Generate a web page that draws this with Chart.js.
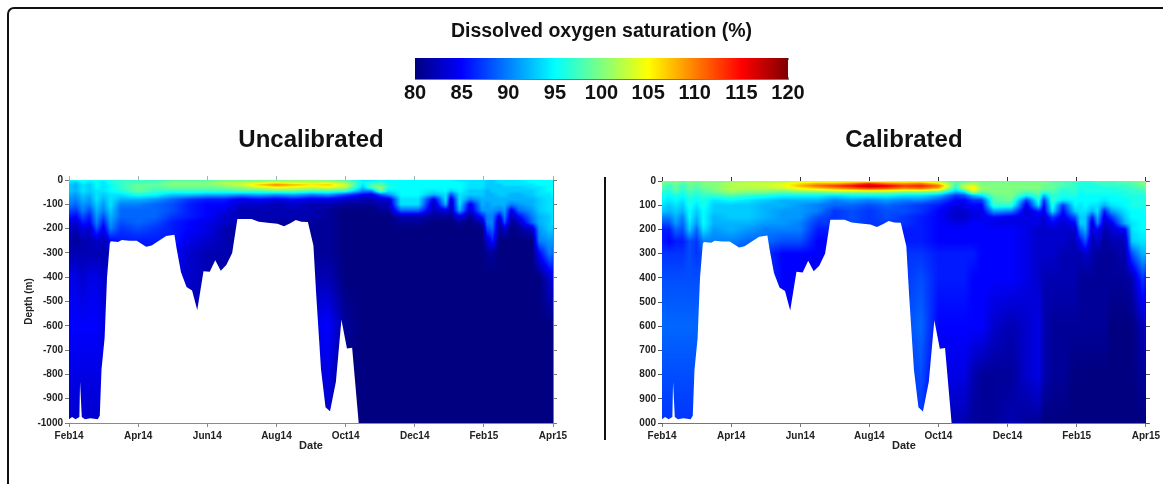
<!DOCTYPE html>
<html>
<head>
<meta charset="utf-8">
<script src="https://cdn.jsdelivr.net/npm/chart.js@4"></script>
<style>
html,body{margin:0;padding:0;background:#fff;width:1163px;height:484px;overflow:hidden}
canvas{position:absolute;display:block;filter:blur(.35px)}
#frame{position:absolute;left:7px;top:7px;width:1300px;height:600px;border:2px solid #111;border-top-left-radius:7px;box-sizing:border-box}
#divider{position:absolute;left:604px;top:177px;width:2px;height:263px;background:#111}
</style>
</head>
<body>
<div id="frame"></div>
<div id="divider"></div>
<canvas id="scale" width="460" height="110" style="left:380px;top:0"></canvas>
<canvas id="uncal" width="600" height="330" style="left:0;top:123px"></canvas>
<canvas id="cal" width="570" height="330" style="left:593px;top:123px"></canvas>
<script>
const FONT='"Liberation Sans", Arial, sans-serif';
const dateLabels=['Feb14','Apr14','Jun14','Aug14','Oct14','Dec14','Feb15','Apr15'];
const uncalDepthLabels=['-1000','-900','-800','-700','-600','-500','-400','-300','-200','-100','0'];
const calDepthLabels=['000','900','800','700','600','500','400','300','200','100','0'];
const colorbarTicks=[80,85,90,95,100,105,110,115,120];

// months since Feb14 of each sampled column
const months=[0,.2,.4,.6,.8,1,1.2,1.5,2,2.5,3,3.5,4,4.5,5,5.5,6,6.5,7,7.5,8,8.5,8.75,9,9.25,9.6,10.1,10.55,10.9,11.05,11.3,11.6,11.95,12.1,12.25,12.45,12.6,12.8,13,13.4,13.6,13.9,14];
const depths=[0,10,20,30,45,60,80,100,125,150,175,200,250,300,400,600,800,1000];

// lower limit of the sampled water column
const floorMonths=[0,.09,.19,.3,.32,.37,.46,.62,.83,.89,.94,1.03,1.1,1.18,1.21,1.42,1.53,1.74,1.96,2.23,2.39,2.6,2.81,3.05,3.11,3.24,3.4,3.56,3.71,3.89,4.07,4.23,4.39,4.55,4.72,4.87,5.28,5.49,5.81,6.03,6.22,6.4,6.56,6.72,6.91,7.07,7.15,7.29,7.42,7.55,7.72,7.88,8.04,8.19,8.38,14];
const floorDepths=[985,975,985,975,830,975,985,980,985,970,780,650,400,260,252,255,247,250,250,275,270,250,230,225,280,380,440,455,535,375,378,330,373,350,300,160,160,172,177,180,190,178,165,172,173,270,470,780,935,952,830,575,693,690,1000,1000];

// Uncalibrated saturation (%) at each depth
const uncal0=[95,95,96,95,96,95,96, 97,97,97,98,98,98,99,99,99,99,100,100,99,98,94, 94,95,95,95,95,95,95,95,94,94,94,93,93,94,94,94,94,95,95,95,95];
const uncal10=[94,93,95,94,95,94,96, 97,98,98,100,100,100,102,102,103,104,103,103,103,101,95, 96,97,95,95,95,95,95,95,95,94,94,93,93,94,94,94,94,95,95,95,95];
const uncal20=[93,92,94,93,95,94,95, 97,99,99,100,100,100,101,103,107,110,108,106,107,103,94, 98,99,96,95,95,95,95,95,95,94,94,93,93,93,94,94,94,94,95,95,95];
const uncal30=[93,92,94,93,95,94,95, 97,99,98,99,99,99,100,101,103,105,104,103,104,102,93, 98,101,96,95,95,95,95,95,95,94,94,93,93,93,93,93,93,94,94,95,95];
const uncal45=[93,92,94,93,94,94,95, 96,99,97,97,97,97,97,98,98,99,99,98,98,97,90, 90,99,94,95,95,94,95,93,95,93,93,92,93,93,93,93,93,93,94,95,95];
const uncal60=[92,91,93,92,94,93,94, 94,96,95,93,93,92,92,91,92,91,92,90,91,88,85, 84,88,91,95,95,92,94,88,94,93,93,92,92,93,93,92,92,93,94,94,95];
const uncal80=[91,90,92,91,94,92,94, 92,92,91,89,87,86,86,84,85,84,85,84,84,83,82, 82,83,83,94,94,84,94,83,94,90,92,92,92,92,92,92,92,92,93,94,94];
const uncal100=[90,89,91,90,93,91,94, 90,90,89,88,86,85,85,83,83,82,83,82,82,81,81, 81,82,82,94,94,82,92,82,94,84,92,91,92,92,92,90,91,92,93,94,94];
const uncal125=[88,87,90,88,92,90,93, 89,89,89,88,86,85,84,82,82,82,82,82,81,80,80, 80,81,81,89,89,82,84,82,92,83,91,91,91,90,91,84,89,91,93,94,94];
const uncal150=[86,85,88,86,91,88,92, 89,89,89,87,86,85,83,82,82,82,82,82,81,80,80, 80,80,80,82,82,81,81,81,84,81,86,90,90,84,90,82,85,90,92,93,94];
const uncal175=[84,83,86,85,90,86,91, 88,89,88,86,85,84,83,82,82,81,81,81,81,80,80, 80,80,80,81,81,80,80,80,81,80,82,90,90,81,88,81,82,89,92,93,94];
const uncal200=[83,82,84,83,88,84,90, 87,88,87,86,85,84,82,81,82,81,81,81,81,80,80, 80,80,80,80,80,80,80,80,80,80,80,88,89,81,83,80,81,83,91,93,93];
const uncal250=[82,81,82,82,83,82,85, 86,86,86,86,84,83,82,81,81,81,81,81,81,80,80, 80,80,80,80,80,80,80,80,80,80,80,83,86,80,80,80,80,80,90,91,91];
const uncal300=[82,82,82,82,82,82,82, 85,85,85,85,83,82,82,81,81,81,81,81,81,80,80, 80,80,80,80,80,80,80,80,80,80,80,81,81,80,80,80,80,80,85,90,89];
const uncal400=[84,84,83,84,84,83,83, 84,84,84,84,83,82,81,81,81,81,81,82,82,80,80, 80,80,80,80,80,80,80,80,80,80,80,80,80,80,80,80,80,80,80,83,84];
const uncal600=[85,85,85,85,85,84,84, 84,84,84,84,82,82,81,81,81,81,81,84,85,81,80, 80,80,80,80,80,80,80,80,80,80,80,80,80,80,80,80,80,80,80,80,80];
const uncal800=[84,84,84,84,84,84,84, 84,84,84,84,82,82,81,81,81,81,81,83,84,80,80, 80,80,80,80,80,80,80,80,80,80,80,80,80,80,80,80,80,80,80,80,80];
const uncal1000=[83,83,83,83,83,83,83, 83,83,83,83,82,82,81,81,81,81,81,82,83,80,80, 80,80,80,80,80,80,80,80,80,80,80,80,80,80,80,80,80,80,80,80,80];

// Calibrated saturation (%) at each depth
const cal0=[100,100,100,99,100,99,100, 100,100,101,101,101,102,102,102,102,103,103,102,102,100,98, 98,99,99,99,99,99,99,99,98,98,98,97,97,97,98,98,98,99,99,100,100];
const cal10=[100,98,100,98,100,99,100, 100,102,103,103,104,106,108,108,110,113,110,109,110,106,98, 100,102,100,100,100,100,100,100,99,98,97,96,96,96,97,97,97,98,98,100,100];
const cal20=[99,97,99,97,99,98,100, 100,102,102,103,104,108,111,113,115,118,116,113,114,111,97, 103,104,100,100,100,100,100,99,99,98,97,96,96,96,96,97,97,97,98,99,100];
const cal30=[98,97,99,97,99,98,99, 100,102,102,102,103,105,107,109,111,113,112,110,111,108,96, 102,106,101,100,100,100,100,99,99,97,97,96,96,96,96,96,96,97,97,98,99];
const cal45=[97,96,98,96,98,97,98, 99,101,100,100,99,100,100,101,101,101,101,100,100,99,92, 94,103,99,100,100,98,99,97,98,96,97,95,96,96,96,96,96,96,97,97,98];
const cal60=[96,95,96,95,97,96,97, 97,98,97,96,95,95,95,94,95,95,95,94,94,92,87, 88,92,94,99,100,95,98,92,97,96,96,95,95,95,95,95,95,96,96,96,97];
const cal80=[95,94,95,94,96,95,96, 94,95,94,93,92,92,92,90,91,90,91,90,90,88,85, 85,87,87,98,99,87,96,87,97,94,95,95,95,95,95,94,95,95,96,96,96];
const cal100=[94,93,94,93,96,94,96, 93,93,93,92,92,91,90,89,89,88,89,88,87,86,84, 84,85,85,97,97,84,94,85,96,87,95,94,95,94,94,92,94,95,96,96,96];
const cal125=[93,92,93,92,95,93,95, 93,93,93,92,91,91,90,87,88,87,88,88,87,85,83, 83,84,84,91,90,83,86,84,94,85,93,94,94,92,94,86,91,94,95,95,96];
const cal150=[90,90,92,90,95,92,95, 92,93,93,92,91,91,88,87,88,87,88,87,86,85,83, 83,84,84,85,84,84,84,83,87,84,88,93,93,86,92,84,87,93,95,95,95];
const cal175=[88,88,91,89,94,91,95, 92,92,92,91,91,90,87,87,88,87,87,87,86,85,84, 84,85,85,84,84,84,84,83,85,83,85,93,93,83,90,83,84,92,94,95,95];
const cal200=[86,86,89,88,93,89,94, 91,92,91,90,90,90,86,86,88,87,87,86,86,85,85, 85,85,85,85,85,84,83,83,83,83,83,90,92,83,85,82,83,85,94,95,95];
const cal250=[86,85,86,86,88,87,90, 90,90,89,89,88,88,85,85,87,86,86,86,86,85,85, 85,85,85,85,85,84,83,83,83,83,82,85,88,82,83,81,82,82,93,94,94];
const cal300=[87,87,87,87,88,87,88, 88,88,88,87,85,85,85,85,87,86,86,87,87,86,86, 86,86,85,85,85,84,83,83,83,82,82,82,83,82,81,81,81,82,88,92,92];
const cal400=[88,88,88,88,88,88,88, 88,88,88,87,85,85,84,84,86,85,85,87,88,86,86, 86,85,85,85,85,84,83,82,82,82,82,81,81,81,81,81,81,81,82,87,86];
const cal600=[89,89,89,89,89,89,89, 89,89,89,87,85,85,84,84,86,85,85,88,89,85,85, 85,85,85,83,82,83,84,82,81,81,81,81,81,81,81,81,80,80,80,82,83];
const cal800=[88,88,88,88,88,88,88, 88,88,88,87,85,85,84,84,86,85,85,87,88,84,84, 84,82,81,81,81,83,84,82,81,81,80,80,80,80,80,80,80,80,80,81,81];
const cal1000=[87,87,87,87,87,87,87, 87,87,87,86,85,85,84,84,85,85,85,86,87,83,82, 82,81,81,81,82,81,81,80,80,80,80,80,80,80,80,80,80,80,80,80,80];

const uncalRows=[uncal0,uncal10,uncal20,uncal30,uncal45,uncal60,uncal80,uncal100,uncal125,uncal150,uncal175,uncal200,uncal250,uncal300,uncal400,uncal600,uncal800,uncal1000];
const calRows=[cal0,cal10,cal20,cal30,cal45,cal60,cal80,cal100,cal125,cal150,cal175,cal200,cal250,cal300,cal400,cal600,cal800,cal1000];

const VMIN=80,VMAX=120;
const jetStops=[[0,[0,0,128]],[.125,[0,0,255]],[.375,[0,255,255]],[.625,[255,255,0]],[.875,[255,0,0]],[1,[128,0,0]]];
function jet(v){
  const t=Math.max(0,Math.min(1,(v-VMIN)/(VMAX-VMIN)));
  for(let i=1;i<jetStops.length;i++){
    if(t<=jetStops[i][0]){
      const a=jetStops[i-1],b=jetStops[i],f=(t-a[0])/(b[0]-a[0]);
      return [0,1,2].map(k=>a[1][k]+(b[1][k]-a[1][k])*f);
    }
  }
  return jetStops[5][1];
}
function locate(arr,v){
  let i=0;
  while(i<arr.length-2&&arr[i+1]<v)i++;
  const f=(v-arr[i])/(arr[i+1]-arr[i]);
  return [i,Math.max(0,Math.min(1,f))];
}
// Paints the gridded field through the chart's own scales, with bilinear shading between samples.
const fieldPlugin={
  id:'field',
  beforeDatasetsDraw(chart){
    const ds=chart.data.datasets[1];
    if(!ds||!ds.rows)return;
    const a=chart.chartArea,xs=chart.scales.x,ys=chart.scales.y;
    const w=Math.round(a.right-a.left),h=Math.round(a.bottom-a.top);
    const off=document.createElement('canvas');off.width=w;off.height=h;
    const oc=off.getContext('2d'),img=oc.createImageData(w,h);
    const colPos=months.map(m=>xs.getPixelForValue(m));
    const rowPos=depths.map(d=>ys.getPixelForValue(-d));
    for(let py=0;py<h;py++){
      const [r,fr]=locate(rowPos,a.top+py+.5);
      for(let px=0;px<w;px++){
        const [c,fc]=locate(colPos,a.left+px+.5);
        const R0=ds.rows[r],R1=ds.rows[r+1];
        const v=(R0[c]*(1-fc)+R0[c+1]*fc)*(1-fr)+(R1[c]*(1-fc)+R1[c+1]*fc)*fr;
        const col=jet(v),o=(py*w+px)*4;
        img.data[o]=col[0];img.data[o+1]=col[1];img.data[o+2]=col[2];img.data[o+3]=255;
      }
    }
    oc.putImageData(img,0,0);
    chart.ctx.drawImage(off,a.left,a.top,a.right-a.left,a.bottom-a.top);
  }
};

function panel(id,title,rows,depthLabels,opt){
  const floor=floorMonths.map((m,i)=>({x:m,y:-floorDepths[i]}));
  const samples=[];
  rows.forEach((r,j)=>r.forEach((v,i)=>samples.push({x:months[i],y:-depths[j],v})));
  const tickFont={family:FONT,size:10,weight:'bold'};
  const axisGrid=c=>({display:true,drawOnChartArea:false,drawTicks:true,tickLength:4,color:c});
  const fit=(prop,size)=>(s)=>{s[prop]=size;};
  new Chart(document.getElementById(id),{
    type:'scatter',
    plugins:[fieldPlugin],
    data:{datasets:[
      {label:'Below sampled depth',type:'line',data:floor,parsing:false,borderWidth:0,pointRadius:0,tension:0,fill:'start',backgroundColor:'#fff',borderColor:'#fff',order:1},
      {label:'Saturation samples',data:samples,rows,pointRadius:0,pointHoverRadius:0,showLine:false,order:2}
    ]},
    options:{
      responsive:false,animation:false,devicePixelRatio:1,
      layout:{padding:0},
      plugins:{
        legend:{display:false},tooltip:{enabled:false},
        title:{display:true,text:title,fullSize:false,color:'#111',font:{family:FONT,size:24,weight:'bold',lineHeight:1.2},padding:{top:opt.titleTop,bottom:opt.titleBottom}}
      },
      scales:{
        x:{type:'linear',min:0,max:14,position:'bottom',z:1,
          afterFit:fit('height',30),afterBuildTicks:s=>{s.ticks=dateLabels.map((_,i)=>({value:i*2}));},
          grid:axisGrid(opt.bottomColor),border:{display:true,color:opt.bottomColor,width:1},
          ticks:{autoSkip:false,maxRotation:0,padding:3,color:'#222',font:tickFont,callback:v=>dateLabels[v/2]},
          title:{display:true,text:'Date',color:'#222',font:{family:FONT,size:11,weight:'bold'},padding:{top:-6,bottom:0}}},
        xTop:{type:'linear',min:0,max:14,position:'top',z:1,
          afterFit:fit('height',5),afterBuildTicks:s=>{s.ticks=dateLabels.map((_,i)=>({value:i*2}));},
          grid:axisGrid(opt.topColor),border:{display:true,color:opt.topColor,width:1},ticks:{display:false}},
        y:{type:'linear',min:-1000,max:0,position:'left',z:1,
          afterFit:fit('width',69),afterBuildTicks:s=>{s.ticks=depthLabels.map((_,i)=>({value:-1000+i*100}));},
          grid:axisGrid(opt.sideColor),border:{display:true,color:opt.sideColor,width:1},
          ticks:{autoSkip:false,padding:2,color:'#222',font:tickFont,callback:v=>depthLabels[(v+1000)/100]},
          title:{display:opt.showDepthTitle,text:'Depth (m)',color:'#222',font:{family:FONT,size:10,weight:'bold'},padding:{top:23,bottom:0}}},
        yRight:{type:'linear',min:-1000,max:0,position:'right',z:1,
          afterFit:fit('width',opt.rightWidth),afterBuildTicks:s=>{s.ticks=depthLabels.map((_,i)=>({value:-1000+i*100}));},
          grid:axisGrid(opt.sideColor),border:{display:true,color:opt.sideColor,width:1},ticks:{display:false}}
      }
    }
  });
}

panel('uncal','Uncalibrated',uncalRows,uncalDepthLabels,{titleTop:3,titleBottom:20.2,bottomColor:'#8a8a8a',topColor:'#9fb4b8',sideColor:'#7a7a7a',rightWidth:47,showDepthTitle:true});
panel('cal','Calibrated',calRows,calDepthLabels,{titleTop:3,titleBottom:21.2,bottomColor:'#777',topColor:'#333',sideColor:'#555',rightWidth:17,showDepthTitle:false});

new Chart(document.getElementById('scale'),{
  type:'bar',
  data:{labels:['saturation'],datasets:[{
    data:[[VMIN,VMAX]],barPercentage:1,categoryPercentage:1,borderWidth:0,
    backgroundColor(ctx){
      const c=ctx.chart,a=c.chartArea;
      if(!a)return '#00f';
      const g=c.ctx.createLinearGradient(a.left,0,a.right,0);
      jetStops.forEach(s=>g.addColorStop(s[0],'rgb('+s[1].join(',')+')'));
      return g;
    }
  }]},
  options:{
    indexAxis:'y',responsive:false,animation:false,devicePixelRatio:1,
    layout:{padding:{left:35,right:52,bottom:0}},
    plugins:{legend:{display:false},tooltip:{enabled:false},
      title:{display:true,text:'Dissolved oxygen saturation (%)',fullSize:false,color:'#111',font:{family:FONT,size:19.5,weight:'bold',lineHeight:1.2},padding:{top:20,bottom:14.6}}},
    scales:{
      x:{type:'linear',min:VMIN,max:VMAX,position:'bottom',z:1,
        afterFit:s=>{s.height=31;},afterBuildTicks:s=>{s.ticks=colorbarTicks.map(v=>({value:v}));},
        grid:{display:true,drawTicks:false,drawOnChartArea:true,color:'rgba(0,0,0,.45)'},
        border:{display:true,color:'#777',dash:[2,17,2]},
        ticks:{autoSkip:false,maxRotation:0,padding:2,color:'#111',font:{family:FONT,size:20,weight:'bold'}}},
      y:{display:false}
    }
  }
});
</script>
</body>
</html>
